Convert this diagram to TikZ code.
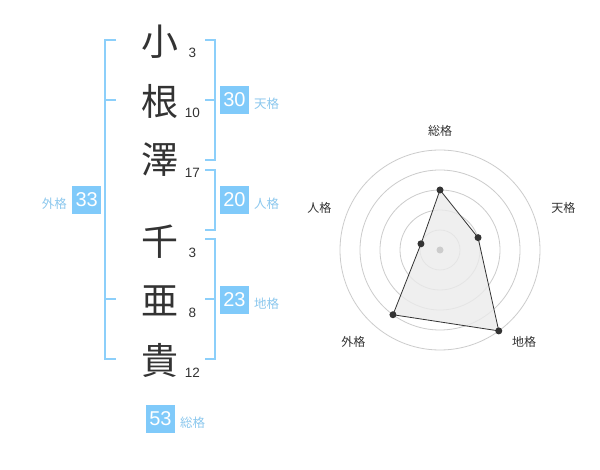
\documentclass[tikz,border=0pt]{standalone}
\usepackage{fontspec}
\setmainfont{Noto Sans CJK JP}
\newfontfamily\numf{Liberation Sans}
\definecolor{brk}{HTML}{8CCFFA}
\definecolor{boxc}{HTML}{80CAFA}
\definecolor{lblc}{HTML}{8CC8EE}
\definecolor{txt}{HTML}{333333}
\definecolor{ring}{HTML}{CCCCCC}
\begin{document}
\begin{tikzpicture}[x=1pt,y=-1pt,
  kanji/.style={font=\fontsize{37}{37}\selectfont, text=txt, inner sep=0pt},
  strokes/.style={font=\numf\fontsize{13.5}{13.5}\selectfont, text=txt, inner sep=0pt},
  valbox/.style={fill=boxc, text=white, minimum width=29pt, minimum height=28pt, inner sep=0pt, font=\numf\fontsize{20}{20}\selectfont},
  kaku/.style={text=lblc, font=\fontsize{12.5}{12.5}\selectfont, inner sep=0pt},
  bracket/.style={draw=brk, line width=2pt},
  radlbl/.style={text=txt, font=\fontsize{12}{12}\selectfont, inner sep=0pt},
  ringc/.style={draw=ring, line width=0.8pt},
  dot/.style={circle, fill=txt, inner sep=0pt, minimum size=7pt}]
\useasboundingbox (0,0) rectangle (600,470);
\fill[white] (0,0) rectangle (600,470);

% kanji
\node[kanji] (k1) at (160,42) {小};
\node[kanji] (k2) at (160,101.5) {根};
\node[kanji] (k3) at (160,160) {澤};
\node[kanji] (k4) at (160,242) {千};
\node[kanji] (k5) at (160,301) {亜};
\node[kanji] (k6) at (160,360) {貴};
% stroke counts
\node[strokes] (s1) at (192.5,52.7) {3};
\node[strokes] (s2) at (192.5,112.7) {10};
\node[strokes] (s3) at (192.5,173.3) {17};
\node[strokes] (s4) at (192.5,252.7) {3};
\node[strokes] (s5) at (192.5,312.7) {8};
\node[strokes] (s6) at (192.5,372.7) {12};

% brackets
\draw[bracket] (116,40) -- (105,40) -- (105,359.5) -- (116,359.5);
\draw[bracket] (105,100) -- (116,100);
\draw[bracket] (105,299.5) -- (116,299.5);
\draw[bracket] (205,40) -- (215,40) -- (215,160) -- (205,160);
\draw[bracket] (205,100) -- (215,100);
\draw[bracket] (205,170) -- (215,170) -- (215,230) -- (205,230);
\draw[bracket] (205,239.5) -- (215,239.5) -- (215,359.5) -- (205,359.5);
\draw[bracket] (205,299.5) -- (215,299.5);

% value boxes and labels
\node[valbox] (ten) at (234.5,100) {30};
\node[kaku, anchor=west] (tenl) at (254,104) {天格};
\node[valbox] (jin) at (234.5,200) {20};
\node[kaku, anchor=west] (jinl) at (254,204) {人格};
\node[valbox] (chi) at (234.5,300) {23};
\node[kaku, anchor=west] (chil) at (254,304) {地格};
\node[valbox] (gai) at (86.7,200) {33};
\node[kaku] (gail) at (54.3,203.5) {外格};
\node[valbox] (sou) at (160.5,419) {53};
\node[kaku, anchor=west] (soul) at (180,423) {総格};

% radar chart
\foreach \r in {20,40,60,80,100} \draw[ringc] (440,250) circle (\r);
\coordinate (pS) at (440,190);
\coordinate (pT) at (478.04,237.64);
\coordinate (pC) at (498.78,330.90);
\coordinate (pG) at (392.98,314.72);
\coordinate (pJ) at (420.98,243.82);
\filldraw[fill=black!8, fill opacity=0.8, draw=txt, line width=0.8pt] (pS) -- (pT) -- (pC) -- (pG) -- (pJ) -- cycle;
\node[circle, fill=ring, inner sep=0pt, minimum size=7pt] (ctr) at (440,250) {};
\foreach \p in {pS,pT,pC,pG,pJ} \node[dot] at (\p) {};
\node[radlbl] (rS) at (440,130.7) {総格};
\node[radlbl] (rT) at (563.3,208.3) {天格};
\node[radlbl] (rC) at (524,341.7) {地格};
\node[radlbl] (rG) at (353.3,341.7) {外格};
\node[radlbl] (rJ) at (319.3,208.3) {人格};
\end{tikzpicture}
\end{document}
